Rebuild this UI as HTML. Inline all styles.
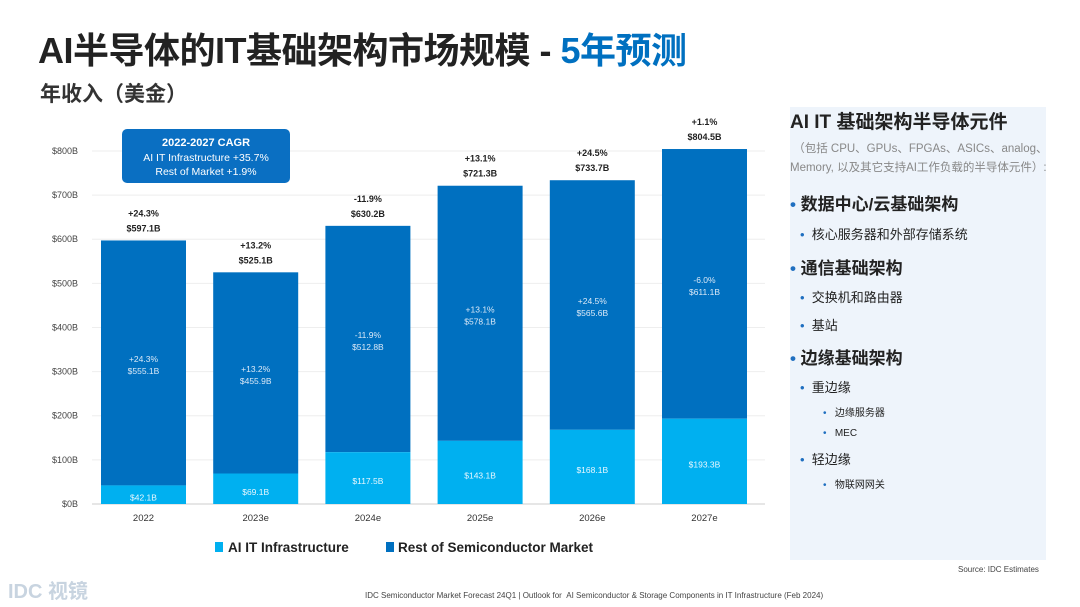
<!DOCTYPE html>
<html><head><meta charset="utf-8">
<style>
body{margin:0;width:1080px;height:607px;background:#fff;position:relative;overflow:hidden;font-family:"Liberation Sans","Noto Sans CJK SC",sans-serif;}
.abs{position:absolute;}
#panel{left:790px;top:107px;width:256px;height:453px;background:#eef4fb;}
.p{position:absolute;white-space:nowrap;color:#222;}
.dot{color:#1f6fc0;}
</style></head><body>
<div class="abs" style="left:38px;top:22px;font-size:36px;font-weight:bold;color:#222;letter-spacing:-0.5px;">AI半导体的IT基础架构市场规模 - <span style="color:#0070c0">5年预测</span></div>
<div class="abs" style="left:40px;top:78px;font-size:21px;font-weight:bold;color:#333;">年收入（美金）</div>

<svg class="abs" style="left:0;top:0" width="780" height="570" id="chart"></svg>

<div id="panel" class="abs">
  <div class="p" style="left:0;top:0;font-size:19px;font-weight:bold;">AI IT 基础架构半导体元件</div>
  <div class="p" style="left:0;top:33px;font-size:11.5px;color:#888;line-height:19px;">&nbsp;（包括 CPU、GPUs、FPGAs、ASICs、analog、<br>Memory, 以及其它支持AI工作负载的半导体元件）:</div>
  <div class="p" style="left:0;top:83px;font-size:17px;font-weight:bold;"><span class="dot">•</span> 数据中心/云基础架构</div>
  <div class="p" style="left:10px;top:117px;font-size:13px;"><span class="dot">•</span>&nbsp;&nbsp;核心服务器和外部存储系统</div>
  <div class="p" style="left:0;top:147px;font-size:17px;font-weight:bold;"><span class="dot">•</span> 通信基础架构</div>
  <div class="p" style="left:10px;top:180px;font-size:13px;"><span class="dot">•</span>&nbsp;&nbsp;交换机和路由器</div>
  <div class="p" style="left:10px;top:208px;font-size:13px;"><span class="dot">•</span>&nbsp;&nbsp;基站</div>
  <div class="p" style="left:0;top:237px;font-size:17px;font-weight:bold;"><span class="dot">•</span> 边缘基础架构</div>
  <div class="p" style="left:10px;top:270px;font-size:13px;"><span class="dot">•</span>&nbsp;&nbsp;重边缘</div>
  <div class="p" style="left:33px;top:297px;font-size:10px;"><span class="dot">•</span>&nbsp;&nbsp;&nbsp;边缘服务器</div>
  <div class="p" style="left:33px;top:321px;font-size:10px;"><span class="dot">•</span>&nbsp;&nbsp;&nbsp;MEC</div>
  <div class="p" style="left:10px;top:342px;font-size:13px;"><span class="dot">•</span>&nbsp;&nbsp;轻边缘</div>
  <div class="p" style="left:33px;top:369px;font-size:10px;"><span class="dot">•</span>&nbsp;&nbsp;&nbsp;物联网网关</div>
</div>
<div class="abs" style="left:958px;top:565px;font-size:8px;color:#444;">Source: IDC Estimates</div>
<div class="abs" style="left:365px;top:591px;font-size:8px;color:#444;">IDC Semiconductor Market Forecast 24Q1 | Outlook for &nbsp;AI Semiconductor &amp; Storage Components in IT Infrastructure (Feb 2024)</div>
<div class="abs" style="left:8px;top:575px;font-size:20px;font-weight:bold;color:#c8d4e0;">IDC 视镜</div>

<script>
const categories=["2022","2023e","2024e","2025e","2026e","2027e"];
const aiValues=[42.1,69.1,117.5,143.1,168.1,193.3];
const restValues=[555.1,455.9,512.8,578.1,565.6,611.1];
const restPct=["+24.3%","+13.2%","-11.9%","+13.1%","+24.5%","-6.0%"];
const totalValues=[597.1,525.1,630.2,721.3,733.7,804.5];
const totalPct=["+24.3%","+13.2%","-11.9%","+13.1%","+24.5%","+1.1%"];
const yTicks=[0,100,200,300,400,500,600,700,800];

const svg=document.getElementById('chart');
const NS='http://www.w3.org/2000/svg';
const y0=504,ppu=0.4413;
function y(v){return y0-v*ppu;}
function x(i){return 101+i*112.2;}
const bw=85;
function mk(t,a,parent){const e=document.createElementNS(NS,t);for(const k in a)e.setAttribute(k,a[k]);(parent||svg).appendChild(e);return e;}
function txt(s,xx,yy,size,fill,weight,name){const e=mk('text',{x:xx,y:yy,'font-size':size,fill:fill,'text-anchor':'middle','font-weight':weight||'normal','font-family':'Liberation Sans, sans-serif'});e.textContent=s;


return e;}
yTicks.forEach(t=>{
  const l=mk('line',{x1:92,x2:765,y1:y(t),y2:y(t),stroke:t===0?'#ccc':'#eee','stroke-width':1});
  
  
  const e=txt('$'+t+'B',78,y(t)+3,9,'#444','normal','y-tick-label');e.setAttribute('text-anchor','end');
});
categories.forEach((c,i)=>{
  const xi=x(i),cx=xi+bw/2,ai=aiValues[i],rest=restValues[i],tot=ai+rest;
  const r1=mk('rect',{x:xi,y:y(tot),width:bw,height:y(ai)-y(tot),fill:'#0070c0'});
  
  
  const r2=mk('rect',{x:xi,y:y(ai),width:bw,height:y(0)-y(ai),fill:'#00b0f0'});
  
  
  const my=(y(tot)+y(ai))/2;
  txt(restPct[i],cx,my-1,8.5,'#dbe9f7','normal','rest-pct-label');
  txt('$'+rest.toFixed(1)+'B',cx,my+11,8.5,'#dbe9f7','normal','rest-value-label');
  txt('$'+ai.toFixed(1)+'B',cx,Math.min((y(ai)+y0)/2+6,501),8.5,'#e8f7fe','normal','ai-value-label');
  txt(totalPct[i],cx,y(tot)-24,9,'#222','bold','total-pct-label');
  txt('$'+totalValues[i].toFixed(1)+'B',cx,y(tot)-9,9,'#222','bold','total-value-label');
  txt(c,cx,521,9.5,'#333','normal','x-tick-label');
});
const b=mk('rect',{x:122,y:129,width:168,height:54,rx:5,fill:'#0a6fc2'});


txt('2022-2027 CAGR',206,146,11,'#fff','bold','cagr-title');
txt('AI IT Infrastructure  +35.7%',206,161,10.5,'#fff','normal','cagr-ai');
txt('Rest of Market +1.9%',206,175,10.5,'#fff','normal','cagr-rest');
const l1=mk('rect',{x:215,y:542,width:8,height:10,fill:'#00b0f0'});


const t1=txt('AI IT Infrastructure',228,552,13.5,'#222','bold','legend-ai');t1.setAttribute('text-anchor','start');
const l2=mk('rect',{x:386,y:542,width:8,height:10,fill:'#0070c0'});


const t2=txt('Rest of Semiconductor Market',398,552,13.5,'#222','bold','legend-rest');t2.setAttribute('text-anchor','start');
</script>
</body></html>
